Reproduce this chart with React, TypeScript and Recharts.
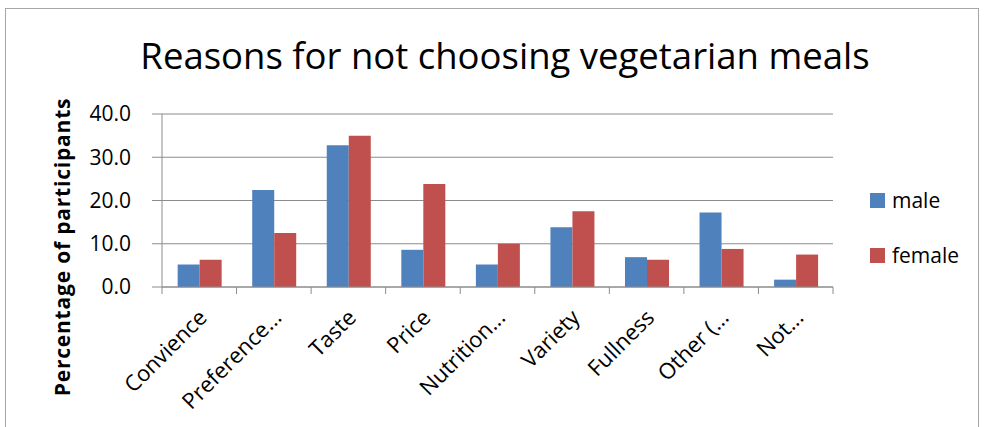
import { Bar, BarChart, CartesianGrid, XAxis, YAxis } from 'recharts'

const categories = ['Convience', 'Preference...', 'Taste', 'Price', 'Nutrition...', 'Variety', 'Fullness', 'Other (...', 'Not...']
const male = [5.2, 22.4, 32.8, 8.6, 5.2, 13.8, 6.9, 17.2, 1.7]
const female = [6.3, 12.5, 35.0, 23.8, 10.0, 17.5, 6.3, 8.8, 7.5]
const yTicks = [0, 10, 20, 30, 40]

const series = [
  { key: 'male', name: 'male', color: '#4F81BD' },
  { key: 'female', name: 'female', color: '#C0504D' },
]

const data = categories.map((name, i) => ({ name, male: male[i], female: female[i] }))

const W = 987
const H = 427
const PLOT_LEFT = 162
const PLOT_RIGHT = 833
const PLOT_TOP = 114
const PLOT_BOTTOM = 287
const BAND = (PLOT_RIGHT - PLOT_LEFT) / categories.length
const FONT = 'Open Sans, sans-serif'
const GRID = '#8c8c8c'

function XTick(props: any) {
  const { x, payload, index } = props
  const top = PLOT_BOTTOM
  return (
    <g>
      <line x1={x - BAND / 2} x2={x - BAND / 2} y1={top} y2={top + 7} stroke={GRID} />
      {index === categories.length - 1 && (
        <line x1={x + BAND / 2} x2={x + BAND / 2} y1={top} y2={top + 7} stroke={GRID} />
      )}
      <text
        x={0}
        y={0}
        transform={`translate(${x + 9},${top + 32}) rotate(-45)`}
        textAnchor="end"
        fontSize={22}
        fontFamily={FONT}
        fill="#000"
      >
        {payload.value}
      </text>
    </g>
  )
}

export default function App() {
  return (
    <div style={{ position: 'absolute', left: 0, top: 0, width: W, height: H, background: '#fff', overflow: 'hidden' }}>
      <div
        style={{
          position: 'absolute',
          left: 5,
          top: 8,
          width: 972,
          height: 440,
          border: '1.5px solid #a6a6a6',
        }}
      />
      <div
        style={{
          position: 'absolute',
          left: 0,
          top: 30,
          width: 1010,
          textAlign: 'center',
          fontFamily: FONT,
          fontSize: 36.5,
          color: '#000',
        }}
      >
        Reasons for not choosing vegetarian meals
      </div>
      <div
        style={{
          position: 'absolute',
          left: 62,
          top: 247,
          transform: 'translate(-50%, -50%) rotate(-90deg)',
          whiteSpace: 'nowrap',
          fontFamily: FONT,
          fontWeight: 700,
          fontSize: 21,
          letterSpacing: 0.8,
          color: '#000',
        }}
      >
        Percentage of participants
      </div>
      <div style={{ position: 'absolute', left: 0, top: 0 }}>
        <BarChart
          width={W}
          height={H}
          data={data}
          margin={{ top: PLOT_TOP, right: W - PLOT_RIGHT, bottom: 0, left: 0 }}
          barGap={0}
          barCategoryGap="21%"
        >
          <CartesianGrid vertical={false} stroke={GRID} strokeWidth={1.2} />
          <XAxis
            dataKey="name"
            interval={0}
            axisLine={{ stroke: GRID }}
            tickLine={false}
            tick={<XTick />}
            height={H - PLOT_BOTTOM}
          />
          <YAxis
            width={PLOT_LEFT}
            domain={[0, 40]}
            ticks={yTicks}
            tickFormatter={(v: number) => v.toFixed(1)}
            axisLine={{ stroke: GRID }}
            tickLine={{ stroke: GRID }}
            tickSize={10}
            tickMargin={21}
            tick={{ fontSize: 21, fontFamily: FONT, fill: '#000' }}
          />
          {series.map((s) => (
            <Bar key={s.key} dataKey={s.key} name={s.name} fill={s.color} isAnimationActive={false} />
          ))}
        </BarChart>
      </div>
      {series.map((s, i) => (
        <div
          key={s.key}
          style={{
            position: 'absolute',
            left: 870,
            top: 186 + i * 55,
            display: 'flex',
            alignItems: 'center',
            fontFamily: FONT,
            fontSize: 21,
            color: '#000',
          }}
        >
          <span style={{ display: 'inline-block', width: 15, height: 15, background: s.color, marginRight: 7 }} />
          {s.name}
        </div>
      ))}
    </div>
  )
}
